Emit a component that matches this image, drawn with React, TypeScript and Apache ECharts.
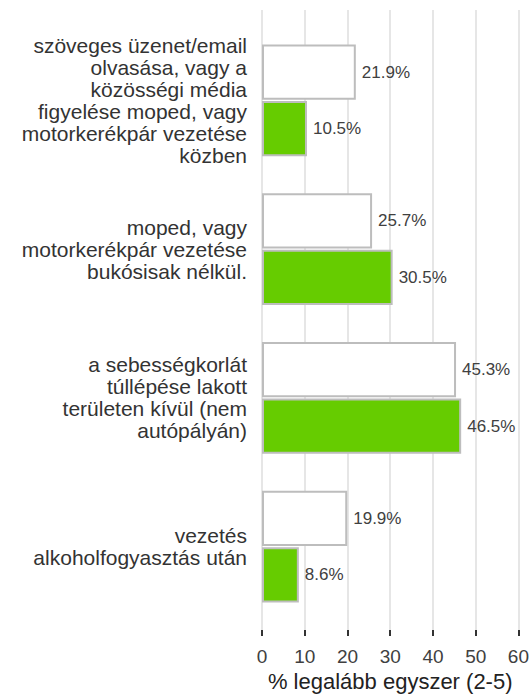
import React, { useEffect, useRef } from "react";
import * as echarts from "echarts";

const categories = [
  "szöveges üzenet/email\nolvasása, vagy a\nközösségi média\nfigyelése moped, vagy\nmotorkerékpár vezetése\nközben",
  "moped, vagy\nmotorkerékpár vezetése\nbukósisak nélkül.",
  "a sebességkorlát\ntúllépése lakott\nterületen kívül (nem\nautópályán)",
  "vezetés\nalkoholfogyasztás után",
];
const seriesWhite = [21.9, 25.7, 45.3, 19.9];
const seriesGreen = [10.5, 30.5, 46.5, 8.6];
const xTicks = { min: 0, max: 60, interval: 10 };
const axisTitle = "% legalább egyszer (2-5)";

export default function App() {
  const ref = useRef<HTMLDivElement>(null);
  useEffect(() => {
    const chart = echarts.init(ref.current!, null, { renderer: "svg" });
    const font = "'Liberation Sans', Arial, sans-serif";
    const labelStyle = {
      show: true,
      position: "right",
      distance: 6,
      formatter: (p: any) => p.value.toFixed(1) + "%",
      color: "#404040",
      fontSize: 17,
      fontFamily: font,
    };
    chart.setOption({
      animation: false,
      textStyle: { fontFamily: font },
      grid: [
        { left: 262, right: 13, top: 26, bottom: 77 },
        { left: 262, right: 13, top: 10, bottom: 68 },
      ],
      xAxis: [
        {
          gridIndex: 0,
          type: "value",
          min: xTicks.min,
          max: xTicks.max,
          interval: xTicks.interval,
          show: false,
          splitLine: { show: false },
        },
        {
          gridIndex: 1,
          type: "value",
          min: xTicks.min,
          max: xTicks.max,
          interval: xTicks.interval,
          offset: 6,
          axisLine: { show: false },
          axisTick: { show: true, length: 6, lineStyle: { color: "#333", width: 2 } },
          axisLabel: { color: "#404040", fontSize: 19, margin: 11, fontFamily: font },
          splitLine: { show: true, lineStyle: { color: "#e6e6e6", width: 2 } },
          name: axisTitle,
          nameLocation: "middle",
          nameGap: 33,
          nameTextStyle: { color: "#222", fontSize: 22, fontFamily: font },
        },
      ],
      yAxis: [
        {
          gridIndex: 0,
          type: "category",
          data: categories,
          inverse: true,
          axisLine: { show: false },
          axisTick: { show: false },
          splitLine: { show: false },
          axisLabel: {
            color: "#333",
            fontSize: 21,
            lineHeight: 22,
            margin: 15,
            align: "right",
            fontFamily: font,
          },
        },
        { gridIndex: 1, type: "value", min: 0, max: 1, show: false, splitLine: { show: false } },
      ],
      series: [
        {
          name: "white",
          type: "bar",
          xAxisIndex: 0,
          yAxisIndex: 0,
          data: seriesWhite,
          barGap: "2%",
          barCategoryGap: "25%",
          itemStyle: { color: "#ffffff", borderColor: "#bdbdbd", borderWidth: 2 },
          label: labelStyle,
        },
        {
          name: "green",
          type: "bar",
          xAxisIndex: 0,
          yAxisIndex: 0,
          data: seriesGreen,
          barGap: "2%",
          barCategoryGap: "25%",
          itemStyle: { color: "#66cc00", borderColor: "#bdbdbd", borderWidth: 2 },
          label: labelStyle,
        },
      ],
    });
    return () => chart.dispose();
  }, []);
  return <div ref={ref} style={{ width: 532, height: 698, position: "absolute", left: 0, top: 0 }} />;
}
